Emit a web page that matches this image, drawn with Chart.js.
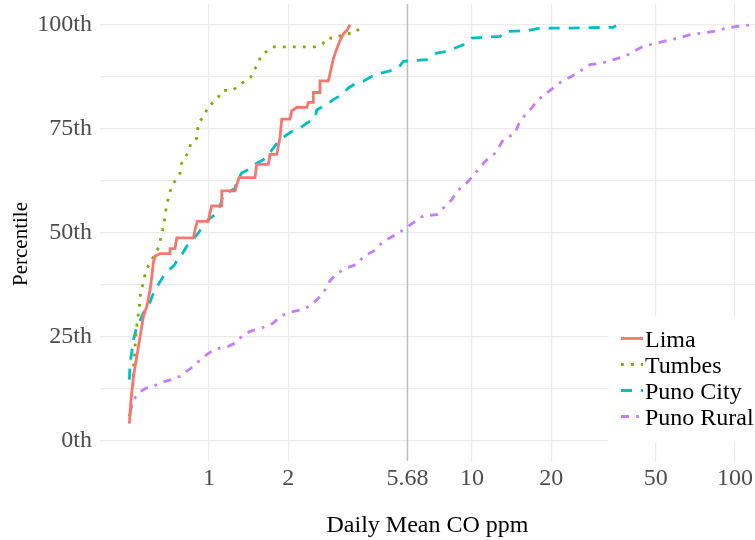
<!DOCTYPE html>
<html>
<head>
<meta charset="utf-8">
<script src="https://cdn.jsdelivr.net/npm/chart.js@4/dist/chart.umd.min.js"></script>
<style>
  body { margin: 0; background: #fff; }
</style>
</head>
<body>
<canvas id="ecdf" width="755" height="540"></canvas>
<script>
const seriesNames = ["Lima", "Tumbes", "Puno City", "Puno Rural"];

const limaX = [0.498,0.505,0.516,0.531,0.547,0.563,0.580,0.597,0.606,0.614,0.623,0.651,0.711,0.711,0.742,0.754,0.872,0.885,0.903,0.994,1.009,1.024,1.118,1.118,1.256,1.30,1.496,1.518,1.681,1.706,1.809,1.862,1.890,2.032,2.063,2.156,2.352,2.386,2.493,2.493,2.642,2.642,2.842,2.884,2.969,3.059,3.148,3.241,3.339,3.437];
const limaY = [4.0,9.7,15.3,20.1,25.0,29.8,32.2,36.2,39.4,42.7,44.3,44.9,44.9,46.1,46.1,48.7,48.7,50.7,52.7,52.7,54.8,56.4,56.4,60.0,60.0,63.2,63.2,66.4,66.4,68.8,68.8,72.9,77.3,77.3,79.3,80.1,80.1,81.3,81.3,83.7,83.7,86.5,86.5,88.2,91.8,94.2,96.2,97.8,98.6,100];

const tumbesX = [0.498,0.505,0.508,0.513,0.516,0.516,0.520,0.523,0.526,0.534,0.542,0.550,0.560,0.571,0.583,0.606,0.645,0.655,0.667,0.676,0.684,0.694,0.706,0.721,0.749,0.776,0.782,0.810,0.839,0.852,0.898,0.906,0.924,0.966,0.985,1.038,1.085,1.124,1.230,1.292,1.370,1.440,1.483,1.540,1.573,1.657,1.747,2.529,2.706,2.803,3.075,3.241,3.559,3.751];
const tumbesY = [5.8,8.2,10.6,12.6,15.0,17.4,19.8,22.2,24.6,29.0,31.4,35.8,37.4,39.8,41.5,43.5,46.5,48.6,50.7,52.8,55.1,57.2,59.1,61.3,62.7,64.3,66.3,68.1,69.5,71.5,72.7,75.0,76.9,78.2,80.2,81.3,82.6,84.2,84.2,85.3,86.4,87.4,89.1,90.6,92.6,93.6,94.7,94.7,95.4,96.8,96.8,97.9,97.9,99.2];

const punoCityX = [0.498,0.501,0.508,0.516,0.528,0.543,0.563,0.588,0.614,0.634,0.670,0.700,0.742,0.764,0.788,0.823,0.860,0.911,0.938,0.994,1.054,1.101,1.133,1.202,1.256,1.274,1.331,1.411,1.518,1.609,1.681,1.756,1.834,1.974,2.063,2.218,2.352,2.529,2.568,2.803,2.969,3.241,3.385,3.645,3.862,4.277,4.805,5.246,5.481,6.071,6.725,7.339,8.015,8.618,9.267,9.97,11.04,12.78,13.35,16.37,18.14,23.59,28.10,34.46,35.28];
const punoCityY = [14.6,18.7,21.1,24.2,26.6,28.3,30.7,32.2,35.3,37.0,39.4,40.8,42.3,43.9,44.7,46.7,47.9,49.9,51.1,53.1,54.3,56.3,59.1,59.9,60.7,62.3,64.3,65.1,66.7,67.5,68.7,70.3,71.9,73.5,74.3,75.1,76.3,77.6,79.5,80.8,82.0,83.4,84.8,86.0,86.4,88.0,88.8,89.6,91.2,91.4,91.6,93.2,93.6,94.4,95.2,96.8,97.0,97.2,98.4,98.6,99.2,99.2,99.3,99.4,99.8];

const punoRuralX = [0.501,0.508,0.516,0.547,0.580,0.606,0.651,0.721,0.776,0.847,0.898,0.980,1.038,1.101,1.184,1.256,1.331,1.432,1.586,1.756,1.862,2.032,2.252,2.458,2.642,2.761,2.884,3.059,3.339,3.645,3.862,4.214,4.469,4.805,5.246,5.646,6.071,6.528,7.339,7.780,8.374,8.747,9.546,10.42,11.21,12.24,13.15,14.58,15.00,15.91,16.87,17.87,19.23,20.38,21.93,23.94,25.74,28.10,31.13,34.46,38.17,41.06,44.80,50.39,55.01,60.87,67.44,74.70,82.70,92.99,101.5,117.4];
const punoRuralY = [6.6,8.2,9.8,11.7,12.6,12.8,13.8,14.6,15.4,17.2,18.6,20.6,21.7,22.2,22.6,23.4,25.0,26.2,27.0,28.2,29.8,30.8,31.4,32.6,34.6,36.2,38.4,40.1,41.5,42.3,44.2,45.5,47.1,48.5,49.9,51.2,52.7,54.0,54.3,55.9,57.9,59.9,61.9,64.7,67.1,69.1,72.3,73.9,75.9,78.3,80.0,82.0,83.6,84.8,86.4,87.6,88.8,90.4,90.8,91.6,92.4,93.6,94.8,95.6,96.2,96.8,97.6,98.0,98.4,99.2,99.6,100];

const cutoff = [5.68];
const xTicks = [1, 2, 5.68, 10, 20, 50, 100];
const xTickLabels = ["1", "2", "5.68", "10", "20", "50", "100"];
const yTicks = [0, 25, 50, 75, 100];
const yTickLabels = ["0th", "25th", "50th", "75th", "100th"];
const yGrid = [0, 12.5, 25, 37.5, 50, 62.5, 75, 87.5, 100];

const serif = '"Liberation Serif", "DejaVu Serif", serif';

function pairs(xs, ys) {
  return xs.map((x, i) => ({ x: x, y: ys[i] }));
}

const cutoffLine = {
  id: "cutoffLine",
  beforeDatasetsDraw(chart) {
    const { ctx, chartArea } = chart;
    const x = chart.scales.x.getPixelForValue(cutoff[0]);
    ctx.save();
    ctx.strokeStyle = "#BEBEBE";
    ctx.lineWidth = 1.5;
    ctx.beginPath();
    ctx.moveTo(x, chartArea.top);
    ctx.lineTo(x, chartArea.bottom);
    ctx.stroke();
    ctx.restore();
  }
};

// y title drawn by hand so it can sit a bit below the panel centre
const yTitle = {
  id: "yTitle",
  afterDraw(chart) {
    const ctx = chart.ctx;
    ctx.save();
    ctx.translate(21, 244);
    ctx.rotate(-Math.PI / 2);
    ctx.fillStyle = "#000";
    ctx.font = "21px " + serif;
    ctx.textAlign = "center";
    ctx.textBaseline = "middle";
    ctx.fillText("Percentile", 0, 0);
    ctx.restore();
  }
};

// legend sits inside the panel, bottom right
const insideLegend = {
  id: "insideLegend",
  afterDraw(chart) {
    const ctx = chart.ctx;
    ctx.save();
    ctx.fillStyle = "#fff";
    ctx.fillRect(608, 316, 147, 126);
    chart.data.datasets.forEach((ds, i) => {
      const y = 338.5 + i * 26;
      ctx.strokeStyle = ds.borderColor;
      ctx.lineWidth = ds.borderWidth;
      ctx.setLineDash(ds.borderDash || []);
      ctx.beginPath();
      ctx.moveTo(621, y);
      ctx.lineTo(643, y);
      ctx.stroke();
      ctx.setLineDash([]);
      ctx.fillStyle = "#000";
      ctx.font = "24px " + serif;
      ctx.textBaseline = "alphabetic";
      ctx.fillText(ds.label, 645, y + 8.3);
    });
    ctx.restore();
  }
};

const lineStyle = (color, dash) => ({
  borderColor: color,
  backgroundColor: color,
  borderWidth: 2.8,
  borderDash: dash,
  borderCapStyle: "butt",
  pointRadius: 0,
  tension: 0,
  fill: false
});

new Chart(document.getElementById("ecdf"), {
  type: "line",
  data: {
    datasets: [
      Object.assign({ label: seriesNames[0], data: pairs(limaX, limaY) }, lineStyle("#F8766D", [])),
      Object.assign({ label: seriesNames[1], data: pairs(tumbesX, tumbesY) }, lineStyle("#7CAE00", [2.8, 7.2])),
      Object.assign({ label: seriesNames[2], data: pairs(punoCityX, punoCityY) }, lineStyle("#00BFC4", [11, 9])),
      Object.assign({ label: seriesNames[3], data: pairs(punoRuralX, punoRuralY) }, lineStyle("#C77CFF", [8, 7, 2.8, 7]))
    ]
  },
  options: {
    responsive: false,
    animation: false,
    devicePixelRatio: 1,
    layout: { padding: { top: 4, right: 0, bottom: 0, left: 0 } },
    plugins: { legend: { display: false }, tooltip: { enabled: false } },
    scales: {
      x: {
        type: "logarithmic",
        min: 0.385,
        max: 119.1,
        afterBuildTicks: (s) => { s.ticks = xTicks.map((v) => ({ value: v })); },
        afterFit: (s) => { s.height = 79; s.paddingLeft = 0; s.paddingRight = 0; },
        grid: { color: "#EBEBEB", lineWidth: 1.2, drawTicks: false },
        border: { display: false },
        ticks: {
          autoSkip: false,
          maxRotation: 0,
          padding: 3,
          color: "#4D4D4D",
          font: { family: serif, size: 24 },
          callback: (v) => xTickLabels[xTicks.indexOf(v)]
        },
        title: {
          display: true,
          text: "Daily Mean CO ppm",
          color: "#000",
          font: { family: serif, size: 24 },
          padding: { top: 0, bottom: 0 }
        }
      },
      y: {
        type: "linear",
        min: -5,
        max: 105,
        afterBuildTicks: (s) => { s.ticks = yGrid.map((v) => ({ value: v })); },
        afterFit: (s) => { s.width = 100; s.paddingTop = 0; s.paddingBottom = 0; },
        grid: { color: "#EBEBEB", lineWidth: 1.2, drawTicks: false },
        border: { display: false },
        ticks: {
          autoSkip: false,
          padding: 8,
          color: "#4D4D4D",
          font: { family: serif, size: 24 },
          callback: (v) => { const i = yTicks.indexOf(v); return i < 0 ? "" : yTickLabels[i]; }
        }
      }
    }
  },
  plugins: [cutoffLine, insideLegend, yTitle]
});
</script>
</body>
</html>
